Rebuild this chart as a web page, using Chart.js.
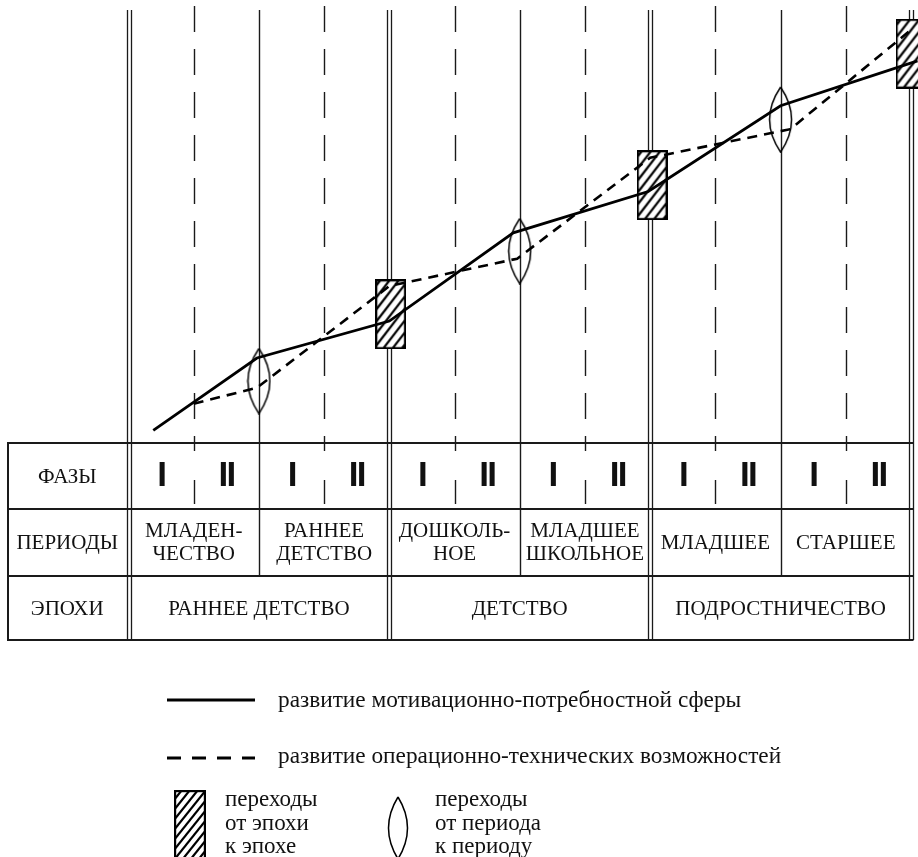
<!DOCTYPE html>
<html>
<head>
<meta charset="utf-8">
<script src="https://cdn.jsdelivr.net/npm/chart.js@4.4.1/dist/chart.umd.min.js"></script>
<style>
html,body{margin:0;padding:0;background:#fff;overflow:hidden}
#wrap{width:918px;height:857px;position:relative}
</style>
</head>
<body>
<div id="wrap"><canvas id="c"></canvas></div>
<script>
// ---- data ----
const phaseLabels = ["I","II","I","II","I","II","I","II","I","II","I","II"];
const periodLabels = [["МЛАДЕН-","ЧЕСТВО"],["РАННЕЕ","ДЕТСТВО"],["ДОШКОЛЬ-","НОЕ"],["МЛАДШЕЕ","ШКОЛЬНОЕ"],["МЛАДШЕЕ"],["СТАРШЕЕ"]];
const epochLabels = ["РАННЕЕ ДЕТСТВО","ДЕТСТВО","ПОДРОСТНИЧЕСТВО"];
const rowLabels = ["ФАЗЫ","ПЕРИОДЫ","ЭПОХИ"];

// developmental lines (x in phases, y in relative level units)
const motivX = [0.38, 1.97, 4.0, 5.9, 7.97, 10.0, 12.1];
const motivY = [3.2, 21.4, 30.7, 52.9, 63.3, 84.9, 96.2];
const operX  = [1.0, 1.97, 4.0, 5.96, 8.0, 10.15, 12.0];
const operY  = [9.9, 13.9, 39.5, 46.4, 71.8, 79.0, 104.0];

// transitions
const epochTransX  = [4.02, 8.03, 12.0];
const epochTransY  = [32.4, 64.9, 98.0];
const periodTransX = [2.0, 6.0, 10.0];
const periodTransY = [15.6, 48.3, 81.4];

const legendLabels = [
  "развитие мотивационно-потребностной сферы",
  "развитие операционно-технических возможностей"
];
const legendEpochText  = ["переходы","от эпохи","к эпохе"];
const legendPeriodText = ["переходы","от периода","к периоду"];

// ---- marker images ----
function makeHatchRect(w, h, step, slope) {
  const c = document.createElement('canvas');
  c.width = w; c.height = h;
  const g = c.getContext('2d');
  g.fillStyle = '#fff';
  g.fillRect(0, 0, w, h);
  g.save();
  g.beginPath(); g.rect(1, 1, w - 2, h - 2); g.clip();
  g.strokeStyle = '#000'; g.lineWidth = 2.2;
  for (let y0 = -w * slope; y0 < h + w * slope + step; y0 += step) {
    g.beginPath();
    g.moveTo(0, y0);
    g.lineTo(w, y0 - w * slope);
    g.stroke();
  }
  g.restore();
  g.strokeStyle = '#000'; g.lineWidth = 2.2;
  g.strokeRect(1.1, 1.1, w - 2.2, h - 2.2);
  return c;
}
function makeLens(w, h) {
  const c = document.createElement('canvas');
  c.width = w; c.height = h;
  const g = c.getContext('2d');
  const cx = w / 2, half = (w - 3) / 2;
  g.strokeStyle = '#000'; g.lineWidth = 1.5;
  g.beginPath();
  g.moveTo(cx, 1);
  g.quadraticCurveTo(cx - 2 * half, h / 2, cx, h - 1);
  g.quadraticCurveTo(cx + 2 * half, h / 2, cx, 1);
  g.stroke();
  return c;
}
const rectImg = makeHatchRect(31, 70, 12, 1.3);
const lensImg = makeLens(25, 67);
const legendRectImg = makeHatchRect(32, 72, 10, 1.25);
const legendLensImg = makeLens(22, 64);

const pts = (xs, ys) => xs.map((x, i) => ({x: x, y: ys[i]}));

// ---- layout constants ----
const TABLE_TOP = 443, ROW1 = 509, ROW2 = 576, TABLE_BOTTOM = 640, TABLE_LEFT = 8;
const SERIF = '"Liberation Serif", "Times New Roman", serif';

function line(ctx, x1, y1, x2, y2) {
  ctx.beginPath(); ctx.moveTo(x1, y1); ctx.lineTo(x2, y2); ctx.stroke();
}

const tablePlugin = {
  id: 'tableGrid',
  beforeDatasetsDraw(chart) {
    const ctx = chart.ctx;
    const xs = chart.scales.x;
    ctx.save();
    ctx.strokeStyle = '#1a1a1a';
    // vertical grid
    for (let i = 0; i <= 12; i++) {
      const px = Math.round(xs.getPixelForValue(i)) + 0.5;
      if (i % 4 === 0) {
        ctx.lineWidth = 1.3; ctx.setLineDash([]);
        line(ctx, px - 2, 10, px - 2, TABLE_BOTTOM);
        line(ctx, px + 2, 10, px + 2, TABLE_BOTTOM);
      } else if (i % 2 === 0) {
        ctx.lineWidth = 1.4; ctx.setLineDash([]);
        line(ctx, px, 10, px, ROW2);
      } else {
        ctx.lineWidth = 1.4; ctx.setLineDash([26, 17]);
        line(ctx, px, 6, px, TABLE_TOP);
        ctx.setLineDash([]);
        line(ctx, px, TABLE_TOP, px, 451);
        line(ctx, px, 480, px, 504);
      }
    }
    ctx.setLineDash([]);
    // horizontal table lines
    const right = Math.round(xs.getPixelForValue(12)) + 2.5;
    ctx.lineWidth = 2;
    [TABLE_TOP, ROW1, ROW2, TABLE_BOTTOM].forEach(y => line(ctx, TABLE_LEFT, y, right, y));
    line(ctx, TABLE_LEFT, TABLE_TOP - 1, TABLE_LEFT, TABLE_BOTTOM + 1);

    // row labels
    ctx.fillStyle = '#111';
    ctx.textAlign = 'center'; ctx.textBaseline = 'middle';
    ctx.font = '21px ' + SERIF;
    const labelX = (TABLE_LEFT + xs.getPixelForValue(0) - 2) / 2;
    const rowMid = [(TABLE_TOP + ROW1) / 2, (ROW1 + ROW2) / 2, (ROW2 + TABLE_BOTTOM) / 2];
    rowLabels.forEach((t, i) => ctx.fillText(t, labelX, rowMid[i] + 1));

    // phases
    ctx.font = 'bold 35px "Liberation Sans", Arial, sans-serif';
    phaseLabels.forEach((t, i) => {
      const cx = xs.getPixelForValue(i + 0.5);
      if (t.length === 1) ctx.fillText(t, cx + 1, rowMid[0]);
      else { ctx.fillText("I", cx - 3, rowMid[0]); ctx.fillText("I", cx + 5, rowMid[0]); }
    });

    // periods
    ctx.font = '21px ' + SERIF;
    periodLabels.forEach((lines, i) => {
      const cx = (xs.getPixelForValue(i * 2) + xs.getPixelForValue(i * 2 + 2)) / 2;
      if (lines.length === 1) ctx.fillText(lines[0], cx, rowMid[1] + 1);
      else {
        ctx.fillText(lines[0], cx, rowMid[1] - 11);
        ctx.fillText(lines[1], cx, rowMid[1] + 12);
      }
    });

    // epochs
    epochLabels.forEach((t, i) => {
      const cx = (xs.getPixelForValue(i * 4) + xs.getPixelForValue(i * 4 + 4)) / 2;
      ctx.fillText(t, cx, rowMid[2] + 1);
    });
    ctx.restore();
  },
  afterDraw(chart) {
    const ctx = chart.ctx;
    ctx.save();
    ctx.fillStyle = '#111'; ctx.strokeStyle = '#000';
    // line legends
    ctx.lineWidth = 2.8; ctx.setLineDash([]);
    line(ctx, 167, 700, 255, 700);
    ctx.setLineDash([14, 11]);
    line(ctx, 167, 758, 255, 758);
    ctx.setLineDash([]);
    ctx.textAlign = 'left'; ctx.textBaseline = 'middle';
    ctx.font = '23.3px ' + SERIF;
    ctx.fillText(legendLabels[0], 278, 701);
    ctx.fillText(legendLabels[1], 278, 757);
    // transitions legend
    ctx.drawImage(legendRectImg, 174, 790);
    ctx.drawImage(legendLensImg, 387, 796);
    ctx.font = '23px ' + SERIF;
    legendEpochText.forEach((t, i) => ctx.fillText(t, 225, 800 + i * 23.5));
    legendPeriodText.forEach((t, i) => ctx.fillText(t, 435, 800 + i * 23.5));
    ctx.restore();
  }
};

new Chart(document.getElementById('c'), {
  type: 'scatter',
  data: {
    datasets: [
      {
        label: legendLabels[0],
        data: pts(motivX, motivY),
        showLine: true, borderColor: '#000', borderWidth: 2.8,
        pointRadius: 0, tension: 0, clip: false, order: 1
      },
      {
        label: legendLabels[1],
        data: pts(operX, operY),
        showLine: true, borderColor: '#000', borderWidth: 2.6, borderDash: [10, 7],
        pointRadius: 0, tension: 0, clip: false, order: 1
      },
      {
        label: 'переходы от эпохи к эпохе',
        data: pts(epochTransX, epochTransY),
        showLine: false, pointStyle: rectImg, pointRadius: 5, clip: false, order: 3
      },
      {
        label: 'переходы от периода к периоду',
        data: pts(periodTransX, periodTransY),
        showLine: false, pointStyle: lensImg, pointRadius: 5, clip: false, order: 2
      }
    ]
  },
  options: {
    responsive: true,
    maintainAspectRatio: false,
    animation: false,
    events: [],
    layout: { padding: { left: 128.5, right: 7, top: 0, bottom: 414 } },
    plugins: { legend: { display: false }, tooltip: { enabled: false } },
    scales: {
      x: { type: 'linear', min: 0, max: 12, display: false },
      y: { type: 'linear', min: 0, max: 110, display: false }
    }
  },
  plugins: [tablePlugin]
});
</script>
</body>
</html>
